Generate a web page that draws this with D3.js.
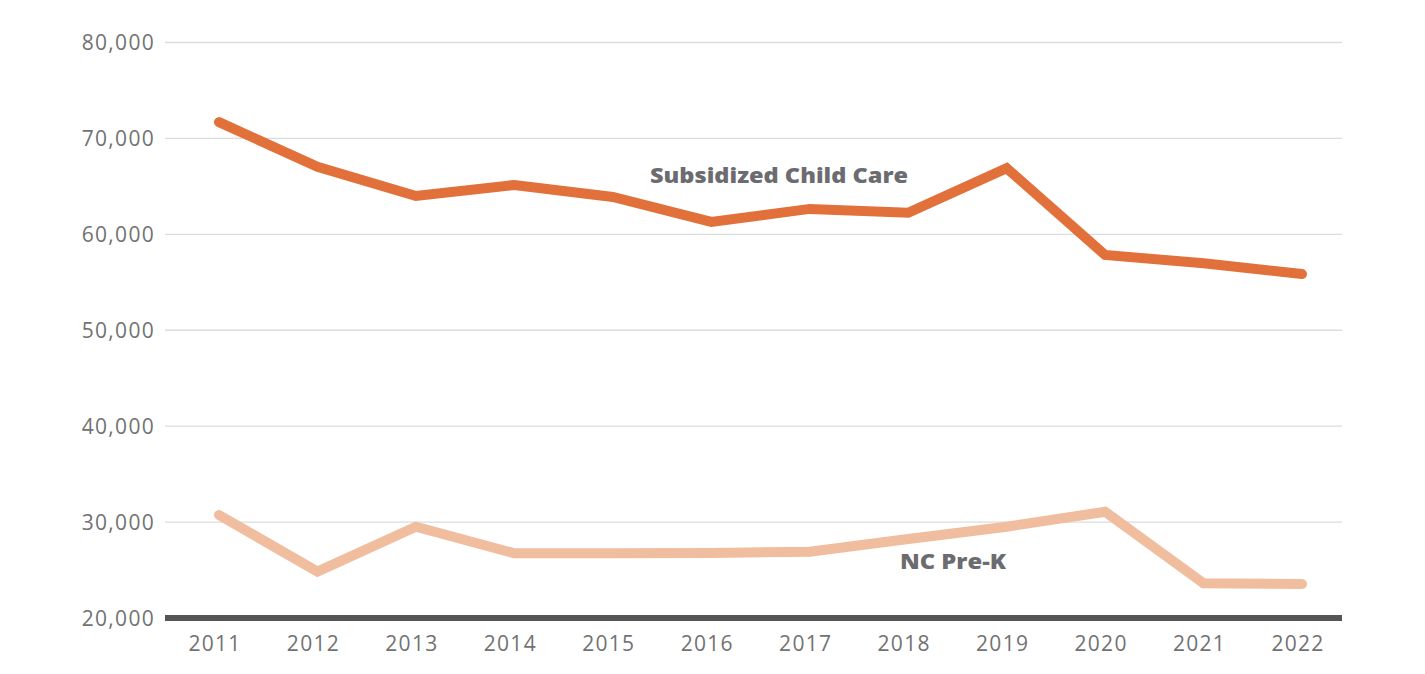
<!DOCTYPE html>
<html lang="en">
<head>
<meta charset="utf-8" />
<script src="https://cdnjs.cloudflare.com/ajax/libs/d3/7.8.5/d3.min.js"></script>
<style>
  body { margin: 0; background: #fff; }
  svg { display: block; }
  .tick-label { font-family: "Open Sans", sans-serif; font-size: 21px; fill: #727272; letter-spacing: 1.3px; }
  .series-label { font-family: "Open Sans", sans-serif; font-weight: 800; font-size: 21px; fill: #6c6c70; }
</style>
<title>Subsidized Child Care vs NC Pre-K</title>
</head>
<body>
<div id="chart"></div>
<script>
const years = [2011, 2012, 2013, 2014, 2015, 2016, 2017, 2018, 2019, 2020, 2021, 2022];
const childCare = [71700, 67050, 64000, 65150, 63900, 61300, 62650, 62250, 66900, 57850, 56980, 55860];
const preK = [30740, 24830, 29520, 26750, 26750, 26780, 26910, 28240, 29520, 31080, 23620, 23540];
const yTicks = [20000, 30000, 40000, 50000, 60000, 70000, 80000];

const width = 1425;
const height = 674;
const gridLeft = 165, gridRight = 1342;

const svg = d3.select('#chart')
  .append('svg')
  .attr('width', width)
  .attr('height', height);

const x = d3.scalePoint().domain(years).range([219, 1302]);
const y = d3.scaleLinear().domain([20000, 80000]).range([618, 42.5]);

// gridlines
svg.append('g')
  .selectAll('line')
  .data(yTicks.filter(d => d > 20000))
  .enter()
  .append('line')
  .attr('x1', gridLeft)
  .attr('x2', gridRight)
  .attr('y1', d => y(d))
  .attr('y2', d => y(d))
  .attr('stroke', '#dcdcdc')
  .attr('stroke-width', 1.3);

// y labels
svg.append('g')
  .selectAll('text')
  .data(yTicks)
  .enter()
  .append('text')
  .attr('class', 'tick-label')
  .attr('x', 155)
  .attr('y', d => y(d))
  .attr('dy', '0.36em')
  .attr('text-anchor', 'end')
  .text(d => d3.format(',')(d));

// x labels
svg.append('g')
  .selectAll('text')
  .data(years)
  .enter()
  .append('text')
  .attr('class', 'tick-label')
  .attr('x', d => x(d) - 4)
  .attr('y', 651)
  .attr('text-anchor', 'middle')
  .text(d => d);

// baseline
svg.append('line')
  .attr('x1', gridLeft)
  .attr('x2', gridRight)
  .attr('y1', y(20000))
  .attr('y2', y(20000))
  .attr('stroke', '#555555')
  .attr('stroke-width', 6);

// lines
const line = d3.line()
  .x((d, i) => x(years[i]))
  .y(d => y(d));

svg.append('path')
  .datum(preK)
  .attr('d', line)
  .attr('fill', 'none')
  .attr('stroke', '#f1bd9f')
  .attr('stroke-width', 10)
  .attr('stroke-linecap', 'round');

svg.append('path')
  .datum(childCare)
  .attr('d', line)
  .attr('fill', 'none')
  .attr('stroke', '#e2703a')
  .attr('stroke-width', 10)
  .attr('stroke-linecap', 'round');

// series labels
svg.append('text')
  .attr('class', 'series-label')
  .attr('x', 650)
  .attr('y', 183)
  .attr('textLength', 258)
  .attr('lengthAdjust', 'spacingAndGlyphs')
  .text('Subsidized Child Care');

svg.append('text')
  .attr('class', 'series-label')
  .attr('x', 900)
  .attr('y', 568.5)
  .attr('textLength', 106)
  .attr('lengthAdjust', 'spacingAndGlyphs')
  .text('NC Pre-K');
</script>
</body>
</html>
